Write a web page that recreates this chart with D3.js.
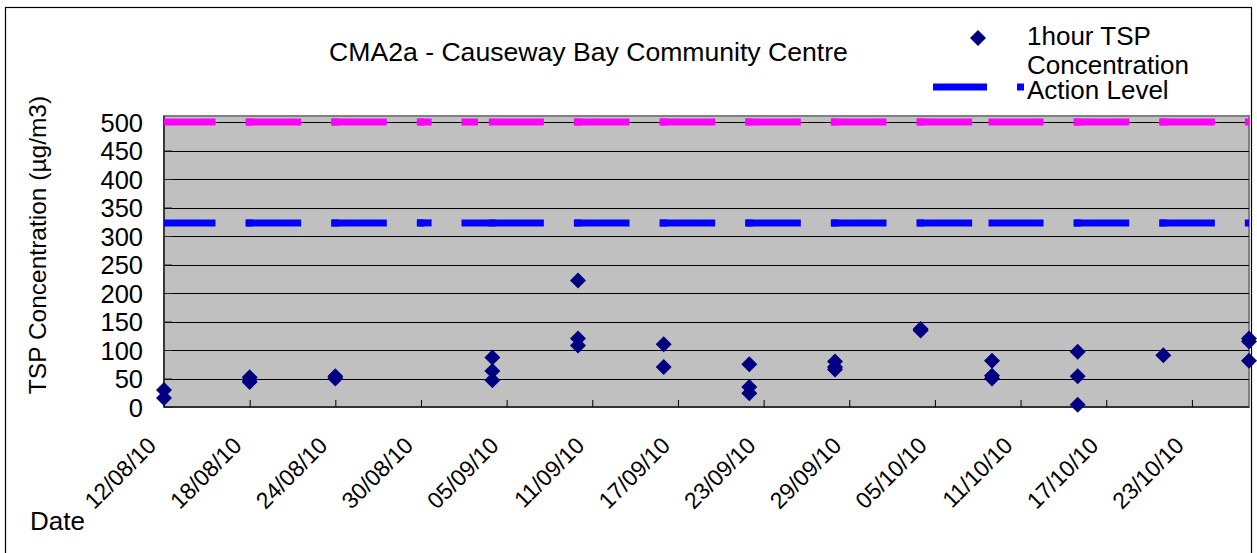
<!DOCTYPE html>
<html>
<head>
<meta charset="utf-8">
<script src="https://cdn.jsdelivr.net/npm/d3@7"></script>
<style>
  body { margin: 0; background: #fff; }
  svg { display: block; font-family: "Liberation Sans", Arial, sans-serif; }
</style>
</head>
<body>
<script>
// ---------------- data ----------------
const chartTitle = "CMA2a - Causeway Bay Community Centre";
const yAxisTitle = "TSP Concentration (µg/m3)";
const xAxisTitle = "Date";
const seriesName = ["1hour TSP", "Concentration"];
const actionName = "Action Level";

const tickLabels = ["12/08/10","18/08/10","24/08/10","30/08/10","05/09/10","11/09/10","17/09/10",
                    "23/09/10","29/09/10","05/10/10","11/10/10","17/10/10","23/10/10"];
const yTicks = [0,50,100,150,200,250,300,350,400,450,500];

const sampleDates = ["2010-08-12","2010-08-18","2010-08-24","2010-09-04","2010-09-10","2010-09-16",
                     "2010-09-22","2010-09-28","2010-10-04","2010-10-09","2010-10-15","2010-10-21","2010-10-27"];
const sampleValues = [
  [30, 16],
  [52, 44, 48],
  [54, 50],
  [87, 63, 47],
  [222, 120, 108],
  [110, 70],
  [75, 35, 24],
  [80, 70, 66],
  [137, 134],
  [81, 55, 50],
  [97, 54, 4],
  [91],
  [120, 115, 81]
];

const limitLevel = 500;
const actionLevel = 323;
// line vertices (null = gap in the line)
const limitDates = ["2010-08-12","2010-08-18","2010-08-24","2010-08-30T00","2010-08-30T12", null,
                    "2010-09-02T02","2010-09-02T18", null,
                    "2010-09-04","2010-09-10","2010-09-16","2010-09-22","2010-09-28","2010-10-04",
                    "2010-10-09","2010-10-15","2010-10-21","2010-10-27"];
const actionDates = ["2010-08-12","2010-08-18","2010-08-24","2010-08-30T00","2010-08-30T12", null,
                     "2010-09-02T02","2010-09-04","2010-09-10","2010-09-16","2010-09-22","2010-09-28","2010-10-04",
                     "2010-10-09","2010-10-15","2010-10-21","2010-10-27"];

// ---------------- setup ----------------
const W = 1257, H = 553;
const parseTick = d3.timeParse("%d/%m/%y");
const parseIso = s => s.length > 10 ? d3.timeParse("%Y-%m-%dT%H")(s) : d3.timeParse("%Y-%m-%d")(s);

const svg = d3.select("body").append("svg").attr("width", W).attr("height", H);

const x = d3.scaleTime()
  .domain([parseIso("2010-08-12"), parseIso("2010-10-27")])
  .range([164, 1249]);
const y = d3.scaleLinear().domain([0, 500]).range([407, 122]);

const plotL = x.range()[0], plotR = x.range()[1], plotB = y(0), plotT = y(500) - 6;

// outer frame
svg.append("rect").attr("x", 5.5).attr("y", 7.5).attr("width", 1246).attr("height", 600)
  .attr("fill", "none").attr("stroke", "#000").attr("stroke-width", 1.2);

// plot area
svg.append("rect").attr("x", plotL).attr("y", plotT).attr("width", plotR - plotL).attr("height", plotB - plotT)
  .attr("fill", "#c0c0c0").attr("stroke", "#808080").attr("stroke-width", 2);

// gridlines
svg.append("g").selectAll("line").data(yTicks.filter(d => d > 0)).join("line")
  .attr("x1", plotL).attr("x2", plotR).attr("y1", d => Math.round(y(d)) + 0.5).attr("y2", d => Math.round(y(d)) + 0.5)
  .attr("stroke", "#000").attr("stroke-width", 1);

// axis lines
svg.append("line").attr("x1", plotL).attr("x2", plotL).attr("y1", plotT).attr("y2", plotB)
  .attr("stroke", "#222").attr("stroke-width", 1.5);
svg.append("line").attr("x1", plotL).attr("x2", plotR).attr("y1", plotB).attr("y2", plotB)
  .attr("stroke", "#333").attr("stroke-width", 2);

// y axis
const yAxis = svg.append("g").attr("transform", `translate(${plotL},0)`)
  .call(d3.axisLeft(y).tickValues(yTicks).tickSizeInner(-8).tickSizeOuter(0).tickPadding(21));
yAxis.select(".domain").remove();
yAxis.selectAll(".tick line").attr("stroke", "#222");
yAxis.selectAll(".tick text").attr("font-size", 25.5).attr("fill", "#000")
  .attr("x", -21).attr("dy", "0.36em").attr("font-family", "Liberation Sans, Arial, sans-serif");

// x axis
const tickDates = tickLabels.map(parseTick);
const xAxis = svg.append("g").attr("transform", `translate(0,${plotB})`)
  .call(d3.axisBottom(x).tickValues(tickDates).tickFormat(d3.timeFormat("%d/%m/%y")).tickSizeInner(-7).tickSizeOuter(0));
xAxis.select(".domain").remove();
xAxis.selectAll(".tick line").attr("stroke", "#000");
xAxis.selectAll(".tick text")
  .attr("font-size", 23).attr("fill", "#000").attr("font-family", "Liberation Sans, Arial, sans-serif")
  .attr("x", 0).attr("y", 0).attr("dy", 0)
  .attr("text-anchor", "end")
  .attr("transform", "translate(-7,40) rotate(-45)");

// clip
svg.append("defs").append("clipPath").attr("id", "plotclip")
  .append("rect").attr("x", plotL).attr("y", 0).attr("width", plotR - plotL).attr("height", H);

// dashed level lines: each segment between vertices restarts its dash pattern
function levelLine(dates, value, color) {
  const pts = dates.map(d => d === null ? null : [x(parseIso(d)), y(value)]);
  const segs = [];
  for (let i = 0; i < pts.length - 1; i++) {
    if (pts[i] && pts[i + 1]) segs.push([pts[i], pts[i + 1]]);
  }
  svg.append("g").attr("clip-path", "url(#plotclip)")
    .selectAll("path").data(segs).join("path")
    .attr("d", d => d3.line()(d))
    .attr("fill", "none").attr("stroke", color).attr("stroke-width", 7)
    .attr("stroke-linecap", "square").attr("stroke-dasharray", "48,37");
}
levelLine(limitDates, limitLevel, "#ff00ff");
levelLine(actionDates, actionLevel, "#0000ff");

// points
const diamond = d3.symbol().type(d3.symbolSquare).size(128)();
const pts = [];
sampleDates.forEach((d, i) => sampleValues[i].forEach(v => pts.push({ date: parseIso(d), value: v })));
svg.append("g").selectAll("path").data(pts).join("path")
  .attr("d", diamond)
  .attr("transform", d => `translate(${x(d.date)},${y(d.value)}) rotate(45)`)
  .attr("fill", "#000080");

// title
svg.append("text").attr("x", 588.5).attr("y", 61).attr("text-anchor", "middle")
  .attr("font-size", 26.6).attr("fill", "#000").text(chartTitle);

// y axis title
svg.append("text").attr("transform", "translate(46,245) rotate(-90)").attr("text-anchor", "middle")
  .attr("font-size", 24.5).attr("fill", "#000").text(yAxisTitle);

// x axis title
svg.append("text").attr("x", 30).attr("y", 530).attr("font-size", 26).attr("fill", "#000").text(xAxisTitle);

// legend
const lg = svg.append("g").attr("font-size", 26);
lg.append("path").attr("d", diamond).attr("transform", "translate(978,38) rotate(45)").attr("fill", "#000080");
lg.append("text").attr("x", 1027).attr("y", 45).text(seriesName[0]);
lg.append("text").attr("x", 1027).attr("y", 74).text(seriesName[1]);
lg.append("rect").attr("x", 933).attr("y", 83.5).attr("width", 54).attr("height", 7).attr("fill", "#0000ff");
lg.append("rect").attr("x", 1017).attr("y", 83.5).attr("width", 7).attr("height", 7).attr("fill", "#0000ff");
lg.append("text").attr("x", 1027).attr("y", 99).text(actionName);
</script>
</body>
</html>
